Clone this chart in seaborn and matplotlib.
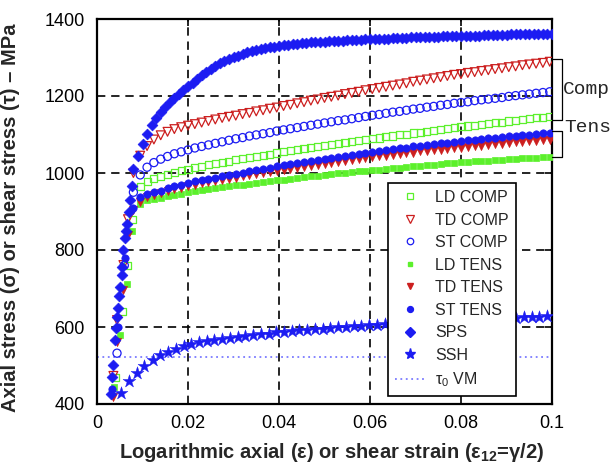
import matplotlib
matplotlib.use("Agg")
import matplotlib.pyplot as plt
from matplotlib.lines import Line2D
import seaborn as sns

sns.set_theme(style="white")
plt.rcParams["font.family"] = ["Liberation Sans", "DejaVu Sans"]
plt.rcParams["mathtext.fontset"] = "custom"
plt.rcParams["mathtext.rm"] = "Liberation Sans"
plt.rcParams["mathtext.bf"] = "Liberation Sans:bold"
plt.rcParams["mathtext.it"] = "Liberation Sans:italic"

# ---------------------------------------------------------------- data
# common strain sampling of the plastic part of the material curves
strain_pl = [0.0080, 0.0095, 0.0110, 0.0125, 0.0140, 0.0155, 0.0170, 0.0185,
             0.0200, 0.0215, 0.0230, 0.0245, 0.0260, 0.0275, 0.0290, 0.0305,
             0.0320, 0.0335, 0.0350, 0.0365, 0.0380, 0.0395, 0.0410, 0.0425,
             0.0440, 0.0455, 0.0470, 0.0485, 0.0500, 0.0515, 0.0530, 0.0545,
             0.0560, 0.0575, 0.0590, 0.0605, 0.0620, 0.0635, 0.0650, 0.0665,
             0.0680, 0.0695, 0.0710, 0.0725, 0.0740, 0.0755, 0.0770, 0.0785,
             0.0800, 0.0815, 0.0830, 0.0845, 0.0860, 0.0875, 0.0890, 0.0905,
             0.0920, 0.0935, 0.0950, 0.0965, 0.0980, 0.0995]

# elastic loading points (strain, stress)
ld_comp_el_e = [0.0040, 0.0055, 0.0067, 0.0078]
ld_comp_el_s = [470, 640, 760, 880]
td_comp_el_e = [0.0036, 0.0044, 0.0058, 0.0068]
td_comp_el_s = [473, 618, 761, 880]
st_comp_el_e = [0.0044, 0.0060, 0.0080]
st_comp_el_s = [532, 760, 950]
ld_tens_el_e = [0.0037, 0.0051, 0.0066, 0.0078]
ld_tens_el_s = [444, 579, 712, 850]
td_tens_el_e = [0.0035, 0.0045, 0.0058, 0.0068]
td_tens_el_s = [418, 560, 696, 840]
st_tens_el_e = [0.0033, 0.0046, 0.0062, 0.0080]
st_tens_el_s = [440, 600, 780, 910]

# plastic stresses (MPa) on strain_pl; None = not yet yielded
td_comp = [1000, 1045, 1070, 1087, 1098, 1107, 1114, 1119, 1123, 1127, 1131,
           1135, 1139, 1143, 1146, 1149, 1153, 1156, 1160, 1163, 1167, 1170,
           1174, 1177, 1181, 1184, 1188, 1191, 1195, 1198, 1201, 1205, 1208,
           1211, 1215, 1218, 1221, 1224, 1227, 1230, 1233, 1237, 1240, 1243,
           1246, 1249, 1252, 1255, 1257, 1260, 1262, 1265, 1267, 1270, 1272,
           1275, 1277, 1280, 1282, 1284, 1286, 1289]
st_comp = [None, 995, 1015, 1027, 1036, 1043, 1050, 1055, 1060, 1065, 1069,
           1073, 1077, 1081, 1085, 1089, 1092, 1096, 1099, 1102, 1105, 1109,
           1112, 1115, 1118, 1121, 1124, 1127, 1130, 1133, 1136, 1138, 1141,
           1144, 1147, 1150, 1152, 1155, 1158, 1160, 1163, 1166, 1168, 1171,
           1173, 1176, 1178, 1181, 1183, 1185, 1188, 1190, 1192, 1194, 1196,
           1199, 1201, 1203, 1205, 1207, 1209, 1211]
ld_comp = [None, 965, 977, 985, 991, 997, 1002, 1006, 1010, 1014, 1017, 1021,
           1024, 1028, 1031, 1034, 1037, 1040, 1043, 1046, 1049, 1052, 1055,
           1058, 1060, 1063, 1066, 1068, 1071, 1074, 1076, 1079, 1081, 1084,
           1086, 1089, 1091, 1094, 1096, 1099, 1101, 1104, 1106, 1108, 1111,
           1113, 1115, 1118, 1120, 1122, 1124, 1126, 1128, 1130, 1132, 1135,
           1137, 1139, 1141, 1143, 1145, 1147]
st_tens = [None, 938, 945, 950, 954, 960, 965, 970, 975, 978, 982, 985, 988,
           991, 995, 998, 1001, 1004, 1007, 1010, 1014, 1017, 1020, 1023, 1025,
           1028, 1031, 1034, 1037, 1040, 1042, 1045, 1048, 1050, 1053, 1055,
           1058, 1060, 1062, 1064, 1066, 1069, 1071, 1073, 1075, 1077, 1079,
           1081, 1083, 1085, 1086, 1088, 1090, 1091, 1093, 1095, 1097, 1098,
           1100, 1102, 1103, 1105]
td_tens = [905, 925, 937, 943, 947, 952, 958, 962, 967, 970, 973, 976, 979,
           982, 985, 988, 991, 994, 997, 1000, 1002, 1005, 1008, 1010, 1013,
           1016, 1018, 1021, 1024, 1026, 1029, 1031, 1034, 1036, 1039, 1041,
           1043, 1045, 1047, 1049, 1051, 1053, 1056, 1058, 1060, 1061, 1063,
           1065, 1066, 1068, 1070, 1071, 1073, 1075, 1076, 1078, 1080, 1081,
           1083, 1084, 1086, 1087]
ld_tens = [None, 920, 929, 933, 936, 939, 943, 946, 950, 952, 955, 958, 960,
           963, 965, 968, 970, 972, 975, 977, 979, 981, 983, 985, 987, 989,
           991, 993, 995, 997, 999, 1001, 1002, 1004, 1006, 1008, 1009, 1011,
           1013, 1014, 1016, 1017, 1019, 1020, 1022, 1023, 1025, 1026, 1028,
           1029, 1030, 1031, 1032, 1034, 1035, 1036, 1037, 1038, 1039, 1040,
           1041, 1042]

# SPS is sampled more finely
sps_strain = [0.0031, 0.0033, 0.0036, 0.0040, 0.0042, 0.0045, 0.0047, 0.0049,
              0.0051, 0.0054, 0.0056, 0.0058, 0.0061, 0.0064, 0.0067, 0.0070,
              0.0073, 0.0076,
              0.008, 0.009, 0.010, 0.011, 0.012, 0.013, 0.014, 0.015, 0.016,
              0.017, 0.018, 0.019, 0.020, 0.021, 0.022, 0.023, 0.024, 0.025,
              0.026, 0.027, 0.028, 0.029, 0.030, 0.031, 0.032, 0.033, 0.034,
              0.035, 0.036, 0.037, 0.038, 0.039, 0.040, 0.041, 0.042, 0.043,
              0.044, 0.045, 0.046, 0.047, 0.048, 0.049, 0.050, 0.051, 0.052,
              0.053, 0.054, 0.055, 0.056, 0.057, 0.058, 0.059, 0.060, 0.061,
              0.062, 0.063, 0.064, 0.065, 0.066, 0.067, 0.068, 0.069, 0.070,
              0.071, 0.072, 0.073, 0.074, 0.075, 0.076, 0.077, 0.078, 0.079,
              0.080, 0.081, 0.082, 0.083, 0.084, 0.085, 0.086, 0.087, 0.088,
              0.089, 0.090, 0.091, 0.092, 0.093, 0.094, 0.095, 0.096, 0.097,
              0.098, 0.099, 0.100]
sps_stress = [426, 470, 501, 566, 597, 625, 650, 680, 704, 735, 756, 800, 830,
              850, 868, 900, 929, 965,
              1010, 1045, 1075, 1102, 1124, 1143, 1158, 1172, 1184, 1195, 1205,
              1215, 1225, 1235, 1245, 1254, 1263, 1271, 1278, 1285, 1291, 1296,
              1301, 1305, 1309, 1313, 1316, 1319, 1322, 1324, 1326, 1328, 1330,
              1332, 1333, 1335, 1336, 1337, 1338, 1339, 1340, 1341, 1341, 1342,
              1343, 1343, 1344, 1345, 1345, 1346, 1346, 1347, 1347, 1348, 1348,
              1349, 1349, 1350, 1350, 1351, 1351, 1352, 1352, 1353, 1353, 1353,
              1354, 1354, 1355, 1355, 1355, 1356, 1356, 1356, 1357, 1357, 1357,
              1358, 1358, 1358, 1359, 1359, 1359, 1360, 1360, 1360, 1361, 1361,
              1361, 1361, 1362, 1362, 1362]

# simple shear: shear strain eps12 and shear stress tau
ssh_strain = [0.0053, 0.0071, 0.0089, 0.0104, 0.0122, 0.0138, 0.0156, 0.0173,
              0.0191, 0.0207, 0.0224, 0.0241, 0.0258, 0.0275, 0.0292, 0.0309,
              0.0326, 0.0343, 0.0360, 0.0377, 0.0394, 0.0411, 0.0428, 0.0445,
              0.0462, 0.0479, 0.0496, 0.0513, 0.0530, 0.0547, 0.0564, 0.0581,
              0.0598, 0.0615, 0.0632, 0.0649, 0.0666, 0.0683, 0.0700, 0.0717,
              0.0734, 0.0751, 0.0768, 0.0785, 0.0802, 0.0819, 0.0836, 0.0853,
              0.0870, 0.0887, 0.0904, 0.0921, 0.0938, 0.0955, 0.0972, 0.0989]
ssh_stress = [428, 460, 481, 499, 514, 527, 535, 543, 551, 556, 560, 563, 566,
              569, 571, 574, 576, 579, 581, 583, 586, 588, 590, 592, 593, 595,
              596, 597, 599, 600, 602, 603, 605, 606, 607, 608, 609, 610, 611,
              612, 613, 614, 615, 616, 617, 618, 619, 620, 621, 622, 623, 624,
              625, 626, 627, 628]

tau0_vm = 523

x_ticks = [0, 0.02, 0.04, 0.06, 0.08, 0.1]
x_tick_labels = ["0", "0.02", "0.04", "0.06", "0.08", "0.1"]
y_ticks = [400, 600, 800, 1000, 1200, 1400]
y_tick_labels = ["400", "600", "800", "1000", "1200", "1400"]

GREEN = "#5cf02c"
RED = "#cc1f1f"
BLUE = "#1c1cf2"
VM_BLUE = "#7b7bff"


def curve(el_e, el_s, pl):
    xs = list(el_e) + [e for e, s in zip(strain_pl, pl) if s is not None]
    ys = list(el_s) + [s for s in pl if s is not None]
    return xs, ys


# label, elastic strain, elastic stress, plastic, marker, size, filled, colour
series = [
    ("LD COMP", ld_comp_el_e, ld_comp_el_s, ld_comp, "s", 26, False, GREEN),
    ("TD COMP", td_comp_el_e, td_comp_el_s, td_comp, "v", 40, False, RED),
    ("ST COMP", st_comp_el_e, st_comp_el_s, st_comp, "o", 34, False, BLUE),
    ("LD TENS", ld_tens_el_e, ld_tens_el_s, ld_tens, "s", 18, True, GREEN),
    ("TD TENS", td_tens_el_e, td_tens_el_s, td_tens, "v", 34, True, RED),
    ("ST TENS", st_tens_el_e, st_tens_el_s, st_tens, "o", 28, True, BLUE),
]

# ---------------------------------------------------------------- figure
fig = plt.figure(figsize=(6.13, 4.76), dpi=100)
ax = fig.add_axes([97 / 613, 72 / 476, 455 / 613, 385 / 476])

ax.axhline(tau0_vm, color=VM_BLUE, lw=1.3, ls=(0, (1, 2)), zorder=2)

handles = []
for label, ee, es, pl, mk, sz, filled, col in series:
    xs, ys = curve(ee, es, pl)
    if filled:
        sns.scatterplot(x=xs, y=ys, ax=ax, marker=mk, s=sz, color=col,
                        edgecolor=col, linewidth=0.5, zorder=3)
        h = Line2D([], [], ls="none", marker=mk, color=col, mec=col,
                   markersize=(sz ** 0.5) * 0.8)
    else:
        sns.scatterplot(x=xs, y=ys, ax=ax, marker=mk, s=sz, facecolor="none",
                        edgecolor=col, linewidth=0.9, zorder=3)
        h = Line2D([], [], ls="none", marker=mk, mfc="none", mec=col,
                   mew=0.9, markersize=(sz ** 0.5) * 0.8)
    handles.append((h, label))

sns.scatterplot(x=sps_strain, y=sps_stress, ax=ax, marker="D", s=30,
                color=BLUE, edgecolor=BLUE, linewidth=0.5, zorder=3)
handles.append((Line2D([], [], ls="none", marker="D", color=BLUE,
                       markersize=5), "SPS"))

sns.scatterplot(x=ssh_strain, y=ssh_stress, ax=ax, marker="*", s=95,
                color=BLUE, edgecolor=BLUE, linewidth=0.3, zorder=4)
handles.append((Line2D([], [], ls="none", marker="*", color=BLUE,
                       markersize=8), "SSH"))
handles.append((Line2D([], [], color=VM_BLUE, lw=1.3, ls=(0, (1, 2))),
                "τ$_0$ VM"))

ax.set_xlim(0, 0.1)
ax.set_ylim(400, 1400)
ax.set_xticks(x_ticks)
ax.set_xticklabels(x_tick_labels)
ax.set_yticks(y_ticks)
ax.set_yticklabels(y_tick_labels)
ax.tick_params(axis="both", direction="in", length=5, width=1.2,
               labelsize=13, colors="black", top=True, right=True)
ax.tick_params(axis="x", pad=8)
ax.tick_params(axis="y", pad=9)

ax.grid(True, color="black", lw=1.2, ls=(0, (5, 3.5)))
ax.set_axisbelow(True)
for sp in ax.spines.values():
    sp.set_color("black")
    sp.set_linewidth(1.6)

ax.set_xlabel("Logarithmic axial (ε) or shear strain (ε$_{\\mathbf{12}}$=γ/2)",
              fontsize=14.5, fontweight="bold")
ax.set_ylabel("Axial stress (σ) or shear stress (τ) – MPa",
              fontsize=14.5, fontweight="bold")
ax.xaxis.set_label_coords(0.515, -0.095)
ax.yaxis.set_label_coords(-0.17, 0.483)

leg = ax.legend([h for h, _ in handles], [l for _, l in handles],
                loc="lower left", bbox_to_anchor=(0.6396, 0.0208),
                borderaxespad=0, fontsize=11.5, frameon=True, fancybox=False,
                framealpha=1, edgecolor="black", labelspacing=0.47,
                handlelength=1.8, handletextpad=0.7, borderpad=0.45,
                scatterpoints=1, numpoints=1)
leg.get_frame().set_linewidth(1.2)
leg.set_zorder(10)

# group brackets outside the right axis
bx0, bx1 = 0.1, 0.1021
for y_lo, y_hi in [(1138, 1296), (1042, 1109)]:
    ax.plot([bx0, bx1, bx1, bx0], [y_hi, y_hi, y_lo, y_lo], color="black",
            lw=0.9, clip_on=False, zorder=5)
ax.text(0.10235, 1216, "Comp", family="Liberation Mono", fontsize=14,
        va="center", ha="left", clip_on=False)
ax.text(0.1026, 1118, "Tens", family="Liberation Mono", fontsize=14,
        va="center", ha="left", clip_on=False)

fig.savefig("out.png", dpi=100)
